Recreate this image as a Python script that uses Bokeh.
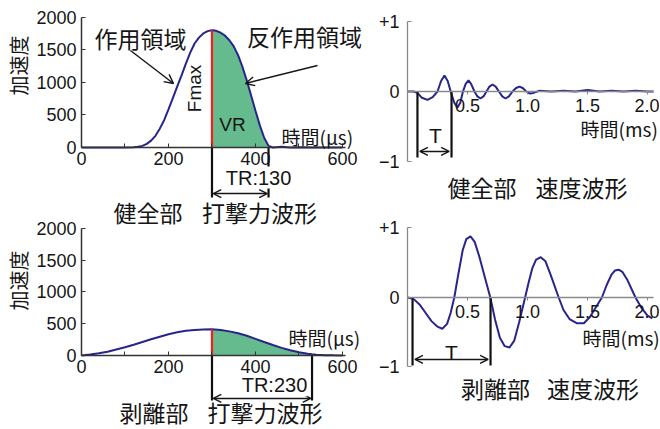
from math import pi
from bokeh.plotting import figure
from bokeh.layouts import row
from bokeh.models import Range1d, Label, Arrow, OpenHead, FixedTicker, LinearAxis
from bokeh.embed import file_html
from bokeh.resources import INLINE

# ---------------- data ----------------
# 打撃力波形 (健全部)  time [µs], acceleration
sound_force_t = [0, 100, 120, 130, 140, 150, 160, 170, 180, 190, 200, 210, 220, 230, 240, 250,
                 260, 270, 280, 290, 300, 310, 320, 330, 340, 350, 360, 370, 380, 390, 400,
                 410, 420, 430, 440, 460, 480, 500, 540, 600]
sound_force_a = [0, 0, 3, 10, 25, 55, 105, 180, 290, 420, 585, 760, 935, 1110, 1290, 1460,
                 1600, 1690, 1755, 1790, 1805, 1795, 1765, 1720, 1650, 1555, 1420, 1240, 1030, 800, 565,
                 340, 150, 25, 0, 10, 0, 5, 0, 0]
# 打撃力波形 (剥離部)
peel_force_t = [0, 20, 40, 60, 80, 100, 120, 140, 160, 180, 200, 220, 240, 260, 280, 300,
                320, 340, 360, 380, 400, 420, 440, 460, 480, 500, 520, 530, 540, 560, 580, 600]
peel_force_a = [0, 15, 35, 60, 95, 130, 170, 212, 255, 295, 335, 365, 388, 402, 410, 412,
                402, 380, 350, 310, 262, 212, 165, 120, 82, 50, 27, 18, 12, 5, 2, 0]
peak_time = 300
tr_sound = 130
tr_peel = 230

# 速度波形 (健全部)  time [ms], velocity
sound_vel_t = [0, 0.05, 0.083, 0.12, 0.167, 0.21, 0.25, 0.28, 0.308, 0.335, 0.36, 0.39, 0.417,
               0.44, 0.462, 0.485, 0.508, 0.53, 0.558, 0.583, 0.608, 0.633, 0.658, 0.683, 0.708,
               0.735, 0.762, 0.79, 0.817, 0.845, 0.875, 0.905, 0.933, 0.96, 0.99, 1.02, 1.05,
               1.1, 1.2, 1.3, 1.4, 1.5, 1.6, 1.7, 1.8, 1.9, 2.0, 2.05]
sound_vel_v = [0, 0, -0.02, -0.09, -0.12, -0.08, 0, 0.15, 0.23, 0.15, 0, -0.16, -0.23,
               -0.16, 0, 0.11, 0.16, 0.11, 0, -0.07, -0.10, -0.07, 0, 0.07, 0.10,
               0.07, 0, -0.07, -0.10, -0.07, 0, 0.05, 0.07, 0.05, 0, -0.03, -0.02,
               0.01, 0.0, 0.01, 0.0, 0.02, 0.0, 0.01, 0.0, 0.01, 0.0, 0.0]
# 速度波形 (剥離部)
peel_vel_t = [0, 0.05, 0.10, 0.15, 0.20, 0.25, 0.29, 0.33, 0.36, 0.39, 0.42, 0.46, 0.49, 0.525,
              0.56, 0.60, 0.64, 0.69, 0.73, 0.77, 0.81, 0.85, 0.89, 0.93, 0.98, 1.01, 1.04,
              1.07, 1.11, 1.15, 1.19, 1.26, 1.30, 1.35, 1.41, 1.47, 1.52, 1.57, 1.62, 1.66,
              1.70, 1.73, 1.76, 1.79, 1.83, 1.90, 1.95, 2.00, 2.04]
peel_vel_v = [0, -0.02, -0.10, -0.22, -0.34, -0.42, -0.45, -0.38, -0.22, 0, 0.30, 0.68, 0.84, 0.88,
              0.80, 0.58, 0.32, 0, -0.32, -0.58, -0.70, -0.72, -0.62, -0.36, 0, 0.22, 0.42,
              0.54, 0.58, 0.52, 0.34, 0, -0.18, -0.31, -0.37, -0.37, -0.28, -0.14, 0, 0.18,
              0.33, 0.39, 0.40, 0.37, 0.26, 0, -0.15, -0.26, -0.30]
t_mark_sound = [0.083, 0.367]
t_mark_peel = [0.042, 0.692]

force_ticks = [0, 200, 400, 600]
force_minor_ticks = [100, 300, 500]
accel_ticks = [0, 500, 1000, 1500, 2000]
time_ticks = [0.5, 1.0, 1.5, 2.0]
time_tick_labels = ["0.5", "1.0", "1.5", "2.0"]
vel_ticks = [-1, 0, 1]
vel_tick_labels = ["\u22121", "0", "+1"]

# ---------------- style ----------------
JP = "Noto Sans CJK JP"
LAT = "Liberation Sans"
INK = "#151515"
CURVE = "#27258c"
GREEN = "#66bb8e"
LOW = "peel"      # name of the range of the lower panel in each column


def base(w, h, xr, yr, yr_low):
    p = figure(width=w, height=h, x_range=Range1d(*xr), y_range=Range1d(*yr),
               output_backend="svg", toolbar_location=None, min_border=0,
               outline_line_color=None, background_fill_color="white",
               border_fill_color="white")
    p.extra_y_ranges = {LOW: Range1d(*yr_low)}
    p.grid.visible = False
    p.xaxis.fixed_location = 0
    p.yaxis.fixed_location = 0
    p.add_layout(LinearAxis(y_range_name=LOW, fixed_location=0), "below")
    p.add_layout(LinearAxis(y_range_name=LOW, fixed_location=0), "left")
    for ax in list(p.xaxis) + list(p.yaxis):
        ax.major_label_text_font = LAT
        ax.major_label_text_font_size = "18px"
        ax.major_label_text_color = INK
    return p


def label(p, x, y, text, size, font=JP, align="center", angle=0.0, rn="default", bg=None):
    p.add_layout(Label(x=x, y=y, text=text, text_font=font, text_font_size=f"{size}px",
                       text_align=align, text_baseline="middle", angle=angle,
                       text_color=INK, y_range_name=rn, background_fill_color=bg))


def arrow(p, x0, y0, x1, y1, both=False, rn="default", size=8):
    head = dict(size=size, line_width=1.4, line_color=INK)
    p.add_layout(Arrow(start=OpenHead(**head) if both else None, end=OpenHead(**head),
                       x_start=x0, y_start=y0, x_end=x1, y_end=y1,
                       line_width=1.4, line_color=INK, y_range_name=rn))


def force_panel(p, t, a, tr, rn, pos):
    # green area after the peak
    fx = [x for x in t if peak_time <= x <= peak_time + tr]
    fy = [v for x, v in zip(t, a) if peak_time <= x <= peak_time + tr]
    p.varea(x=fx, y1=0, y2=fy, fill_color=GREEN, fill_alpha=1.0, y_range_name=rn)
    p.line(t, a, line_color=CURVE, line_width=2, y_range_name=rn)
    p.segment(x0=[peak_time], y0=[0], x1=[peak_time], y1=[max(a)],
              line_color="#ff1a1a", line_width=2.2, y_range_name=rn)
    # TR bracket
    p.segment(x0=[peak_time, peak_time + tr], y0=[0, 0], x1=[peak_time, peak_time + tr],
              y1=[pos["bl"], pos["bl"]], line_color="#111111", line_width=2.2, y_range_name=rn)
    arrow(p, peak_time + 3, pos["ar"], peak_time + tr - 3, pos["ar"], both=True, rn=rn)
    label(p, pos["trx"], pos["try"], f"TR:{tr}", 20, font=LAT, rn=rn, bg="white")
    label(p, -143.7, pos["ylab"], "加速度", 20, angle=pi / 2, rn=rn)
    label(p, pos["tx"], pos["ty"], "時間(μs)", 19, align="left", rn=rn)
    label(p, pos["t1x"], pos["tity"], pos["t1"], 23, rn=rn)
    label(p, pos["t2x"], pos["tity"], pos["t2"], 23, rn=rn)


def vel_panel(p, t, v, marks, rn, pos):
    p.line(t, v, line_color=CURVE, line_width=2, y_range_name=rn)
    p.segment(x0=marks, y0=[0, 0], x1=marks, y1=[pos["bl"], pos["bl"]],
              line_color="#111111", line_width=2.2, y_range_name=rn)
    arrow(p, marks[0] + 0.02, pos["ar"], marks[1] - 0.02, pos["ar"], both=True, rn=rn)
    label(p, pos["Tx"], pos["Ty"], "T", 21, font=LAT, rn=rn)
    label(p, pos["tx"], pos["ty"], "時間(ms)", 19, align="left", rn=rn)
    label(p, pos["t1x"], pos["tity"], pos["t1"], 23, rn=rn)
    label(p, pos["t2x"], pos["tity"], pos["t2"], 23, rn=rn)


# ---------------- left column: 打撃力波形 ----------------
pl = base(376, 429, (-186.2, 678.2), (-4338.5, 2261.5), (-1165.4, 5590.6))
for ax in pl.xaxis:
    ax.bounds = (0, 607)
    ax.ticker = FixedTicker(ticks=force_ticks, minor_ticks=force_minor_ticks)
for ax in pl.yaxis:
    ax.bounds = (0, 2000)
    ax.ticker = FixedTicker(ticks=accel_ticks)
    ax.minor_tick_line_color = None
for ax in list(pl.xaxis) + list(pl.yaxis):
    ax.axis_line_color = "#333333"
    ax.axis_line_width = 1.5
    ax.major_tick_line_color = "#333333"
    ax.major_tick_in = 4
    ax.major_tick_out = 0
    ax.minor_tick_in = 4
    ax.minor_tick_out = 0
    ax.major_label_standoff = 5
for ax in pl.xaxis:
    ax.minor_tick_line_color = "#333333"

force_panel(pl, sound_force_t, sound_force_a, tr_sound, "default",
            {"bl": -769, "ar": -708, "trx": 407, "try": -462, "ylab": 1262,
             "tx": 459.8, "ty": 169, "tity": -1000,
             "t1": "健全部", "t1x": 152.9, "t2": "打撃力波形", "t2x": 409.2})
label(pl, 135.6, 1692, "作用領域", 23)
label(pl, 512.6, 1708, "反作用領域", 23)
arrow(pl, 112.6, 1492, 211.5, 985, size=9)
arrow(pl, 542.5, 1262, 377, 985, size=9)
label(pl, 259.8, 908, "Fmax", 19, font=LAT, angle=pi / 2)
label(pl, 347, 354, "VR", 19, font=LAT)

force_panel(pl, peel_force_t, peel_force_a, tr_peel, LOW,
            {"bl": -709, "ar": -677, "trx": 443.7, "try": -472, "ylab": 1181,
             "tx": 475.9, "ty": 283.5, "tity": -897,
             "t1": "剥離部", "t1x": 166.7, "t2": "打撃力波形", "t2x": 421.8})

# ---------------- right column: 速度波形 ----------------
pr = base(283, 429, (-0.2583, 2.1), (-4.8286, 1.3), (-1.8993, 4.2734))
for ax in pr.xaxis:
    ax.bounds = (0, 2.05)
    ax.ticker = FixedTicker(ticks=time_ticks)
    ax.major_label_overrides = {k: s for k, s in zip(time_ticks, time_tick_labels)}
    ax.major_tick_in = 0
    ax.major_tick_out = 3
    ax.major_label_standoff = 5
for ax in pr.yaxis:
    ax.bounds = (-1, 1)
    ax.ticker = FixedTicker(ticks=vel_ticks)
    ax.major_label_overrides = {k: s for k, s in zip(vel_ticks, vel_tick_labels)}
    ax.major_tick_in = 4
    ax.major_tick_out = 0
    ax.major_label_standoff = 8
for ax in list(pr.xaxis) + list(pr.yaxis):
    ax.axis_line_color = "#8a8a8a"
    ax.axis_line_width = 1.3
    ax.major_tick_line_color = "#8a8a8a"
    ax.minor_tick_line_color = None

vel_panel(pr, sound_vel_t, sound_vel_v, t_mark_sound, "default",
          {"bl": -0.943, "ar": -0.857, "Tx": 0.233, "Ty": -0.629,
           "tx": 1.442, "ty": -0.529, "tity": -1.371,
           "t1": "健全部", "t1x": 0.621, "t2": "速度波形", "t2x": 1.45})
vel_panel(pr, peel_vel_t, peel_vel_v, t_mark_peel, LOW,
          {"bl": -0.978, "ar": -0.892, "Tx": 0.367, "Ty": -0.791,
           "tx": 1.458, "ty": -0.576, "tity": -1.309,
           "t1": "剥離部", "t1x": 0.733, "t2": "速度波形", "t2x": 1.546})

layout = row(pl, pr)
open("out.html", "w").write(file_html(layout, INLINE))
